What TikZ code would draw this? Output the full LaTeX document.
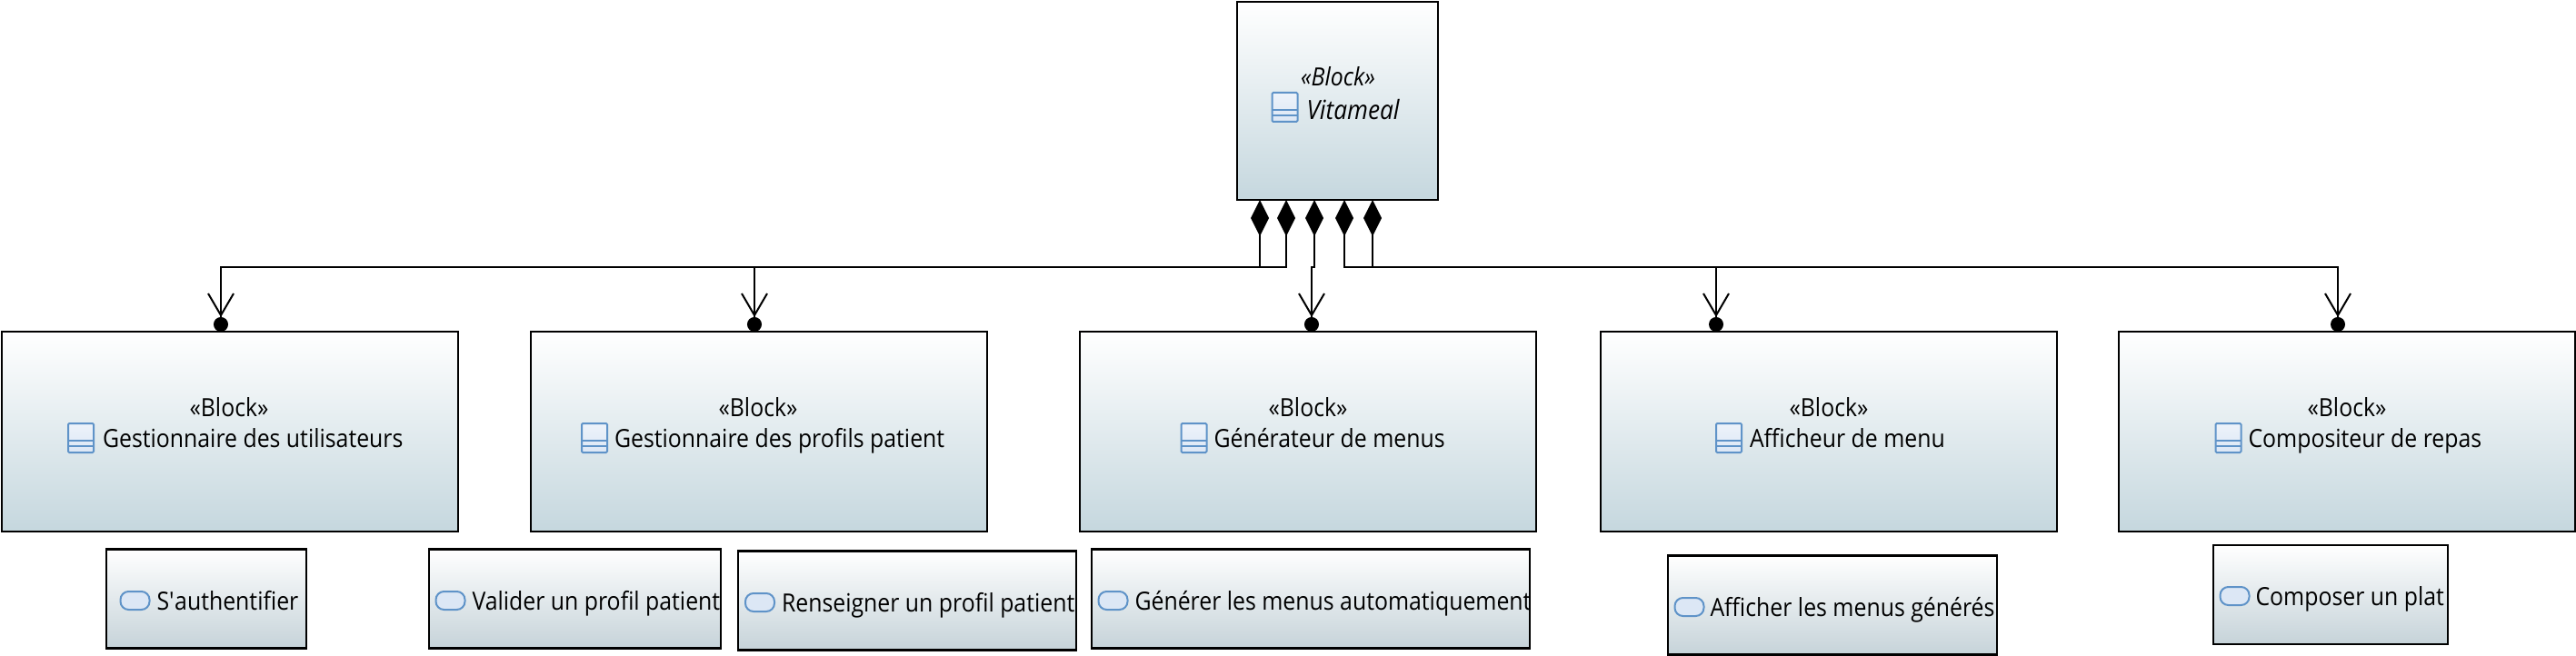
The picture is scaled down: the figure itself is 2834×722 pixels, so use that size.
\documentclass[tikz,border=0pt]{standalone}
\usepackage{fontspec}
\setmainfont[FakeStretch=0.9]{Open Sans}
\usetikzlibrary{arrows.meta, positioning, calc}
\definecolor{blockbot}{HTML}{C5D7DE}
\definecolor{taskbot}{HTML}{C6D3D9}
\definecolor{iconblue}{HTML}{5F93C8}
\definecolor{iconfill}{HTML}{DCE7F5}

\begin{document}
\begin{tikzpicture}[
    x=0.5pt, y=-0.5pt, font=\fontsize{13.8pt}{16pt}\selectfont,
    blockbox/.style={draw, line width=1.2pt, top color=white, bottom color=blockbot,
                minimum width=251pt, minimum height=110pt, inner sep=0pt, outer sep=0pt},
    taskbox/.style={draw, line width=1.2pt, top color=white, bottom color=taskbot,
                minimum height=54.5pt, inner sep=0pt, outer sep=0pt},
    blockicon/.style={draw=iconblue, line width=1pt, rounded corners=.6pt,
                top color=iconfill!50, bottom color=iconfill, minimum width=14pt,
                minimum height=16pt, inner sep=0pt, outer sep=0pt,
                path picture={
                    \draw[iconblue, line width=1pt] ([yshift=6.6pt]path picture bounding box.south west)
                        -- ([yshift=6.6pt]path picture bounding box.south east);
                    \draw[iconblue, line width=1pt] ([yshift=3.5pt]path picture bounding box.south west)
                        -- ([yshift=3.5pt]path picture bounding box.south east);
                }},
    taskicon/.style={draw=iconblue, line width=1pt, rounded corners=4.5pt, fill=iconfill,
                minimum width=16pt, minimum height=10pt, inner sep=0pt, outer sep=0pt},
    label text/.style={inner sep=0pt, outer sep=0pt, text height=13pt, text depth=2.5pt},
    task text/.style={inner sep=0pt, outer sep=0pt, text height=13pt, text depth=3pt},
    link/.style={line width=1pt, {Diamond[length=20pt, width=10pt, fill=black]}-{Straight Barb[length=12pt, width=14pt]Circle[length=8pt, width=8pt, fill=black]}}
]
\useasboundingbox (0,0) rectangle (2834,722);

% top block
\node[blockbox, minimum width=110.5pt, minimum height=109pt] (vita) at (1471.5,111) {};
\node[label text] (vitaS) at (1472,84) {\itshape «Block»};
\node[blockicon] (vitaI) at (1413.5,118) {};
\node[label text, right=5pt of vitaI, yshift=-1.5pt] (vitaN) {\fontsize{14.6pt}{16pt}\selectfont\itshape Vitameal};

% blocks
\node[blockbox] (gest) at (253,475) {};
\node[blockbox] (prof) at (835,475) {};
\node[blockbox] (gen)  at (1439,475) {};
\node[blockbox] (aff)  at (2012,475) {};
\node[blockbox] (comp) at (2582,475) {};

\node[label text] (gestS) at (252,448)  {«Block»};
\node[label text] (profS) at (834,448)  {«Block»};
\node[label text] (genS)  at (1439,448) {«Block»};
\node[label text] (affS)  at (2012,448) {«Block»};
\node[label text] (compS) at (2582,448) {«Block»};

\node[blockicon] (gestI) at (89,482)   {};
\node[blockicon] (profI) at (654,482)  {};
\node[blockicon] (genI)  at (1313.5,482) {};
\node[blockicon] (affI)  at (1902,482) {};
\node[blockicon] (compI) at (2451.5,482) {};

\node[label text, right=5pt of gestI] (gestN) {Gestionnaire des utilisateurs};
\node[label text, right=4pt of profI] (profN) {Gestionnaire des profils patient};
\node[label text, right=4pt of genI]  (genN)  {Générateur de menus};
\node[label text, right=4.5pt of affI]  (affN)  {Afficheur de menu};
\node[label text, right=4pt of compI] (compN) {Compositeur de repas};

% functions
\node[taskbox, minimum width=110pt]   (auth) at (227,659) {};
\node[taskbox, minimum width=160.5pt] (val)  at (632.5,659) {};
\node[taskbox, minimum width=186pt]   (ren)  at (998,661) {};
\node[taskbox, minimum width=241pt]   (mk)   at (1442,659) {};
\node[taskbox, minimum width=181pt]   (show) at (2016,666) {};
\node[taskbox, minimum width=129pt]   (plat) at (2564,654.5) {};

\node[taskicon] (authI) at (148.5,661) {};
\node[taskicon] (valI)  at (495.5,661) {};
\node[taskicon] (renI)  at (836,663)   {};
\node[taskicon] (mkI)   at (1224.5,661) {};
\node[taskicon] (showI) at (1858.5,668) {};
\node[taskicon] (platI) at (2458.5,656) {};

\node[task text, right=4pt of authI] (authN) {S\textquotesingle authentifier};
\node[task text, right=4pt of valI]  (valN)  {Valider un profil patient};
\node[task text, right=4pt of renI]  (renN)  {Renseigner un profil patient};
\node[task text, right=4pt of mkI]   (mkN)   {Générer les menus automatiquement};
\node[task text, right=3.5pt of showI] (showN) {Afficher les menus générés};
\node[task text, right=3.5pt of platI] (platN) {Composer un plat};

% composition links
\foreach \a/\b/\c in {-85.5/gest/-10, -56.5/prof/-5, -25.5/gen/4, 7.5/aff/-124, 38.5/comp/-10}
    \draw[link] ($(vita.south)+(\a,0)$) -- ++(0,74) -| ($(\b.north)+(\c,0)$);
\end{tikzpicture}
\end{document}
